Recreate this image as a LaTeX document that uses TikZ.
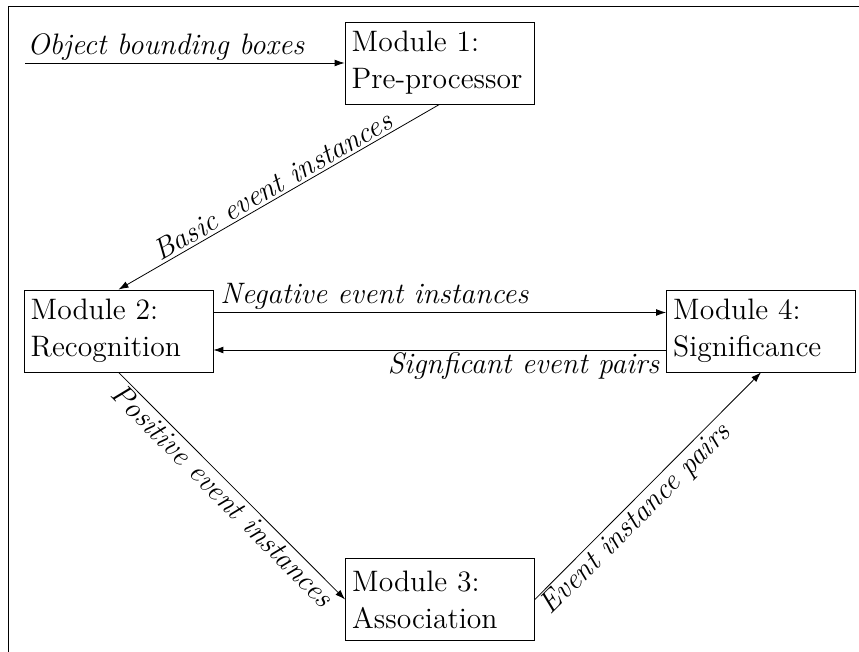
\documentclass[tikz,border=0pt]{standalone}
\usetikzlibrary{arrows.meta}
\newcommand{\figfont}{\fontsize{14.8pt}{18.5pt}\selectfont}
\begin{document}
\begin{tikzpicture}[x=0.5pt,y=-0.5pt,
  module/.style={draw, rectangle, align=left, text width=87.8pt,
    minimum height=41pt, inner xsep=3.33pt, font=\figfont},
  flow/.style={-{Latex[length=5pt,width=3.4pt]}},
  lbl/.style={font=\figfont\itshape, inner ysep=1.2pt}]
\useasboundingbox (0,0) rectangle (859,652);
% frame
\draw (8,652) -- (8,6) -- (859,6);

% modules
\node[module] (m1) at (439.5,63) {Module 1:\\Pre-processor};
\node[module] (m2) at (118.5,331) {Module 2:\\Recognition};
\node[module] (m4) at (761,331) {Module 4:\\Significance};
\node[module] (m3) at (440,599.5) {Module 3:\\Association};

% input
\coordinate (src) at (25,63);

% data flow
\draw[flow] (src) -- node[lbl, anchor=south west, pos=0, inner xsep=1pt] {Object bounding boxes} (m1.west);
\draw[flow] (m1.south) -- node[lbl, sloped, above] {Basic event instances} (m2.north);
\draw[flow] ([yshift=9.25pt]m2.east) -- node[lbl, above right, pos=0] {Negative event instances} ([yshift=9.25pt]m4.west);
\draw[flow] ([yshift=-9.5pt]m4.west) -- node[lbl, below left, pos=0] {Signficant event pairs} ([yshift=-9.5pt]m2.east);
\draw[flow] (m2.south) -- node[lbl, sloped, below] {Positive event instances} (m3.west);
\draw[flow] (m3.east) -- node[lbl, sloped, below, pos=0.4] {Event instance pairs} (m4.south);
\end{tikzpicture}
\end{document}
